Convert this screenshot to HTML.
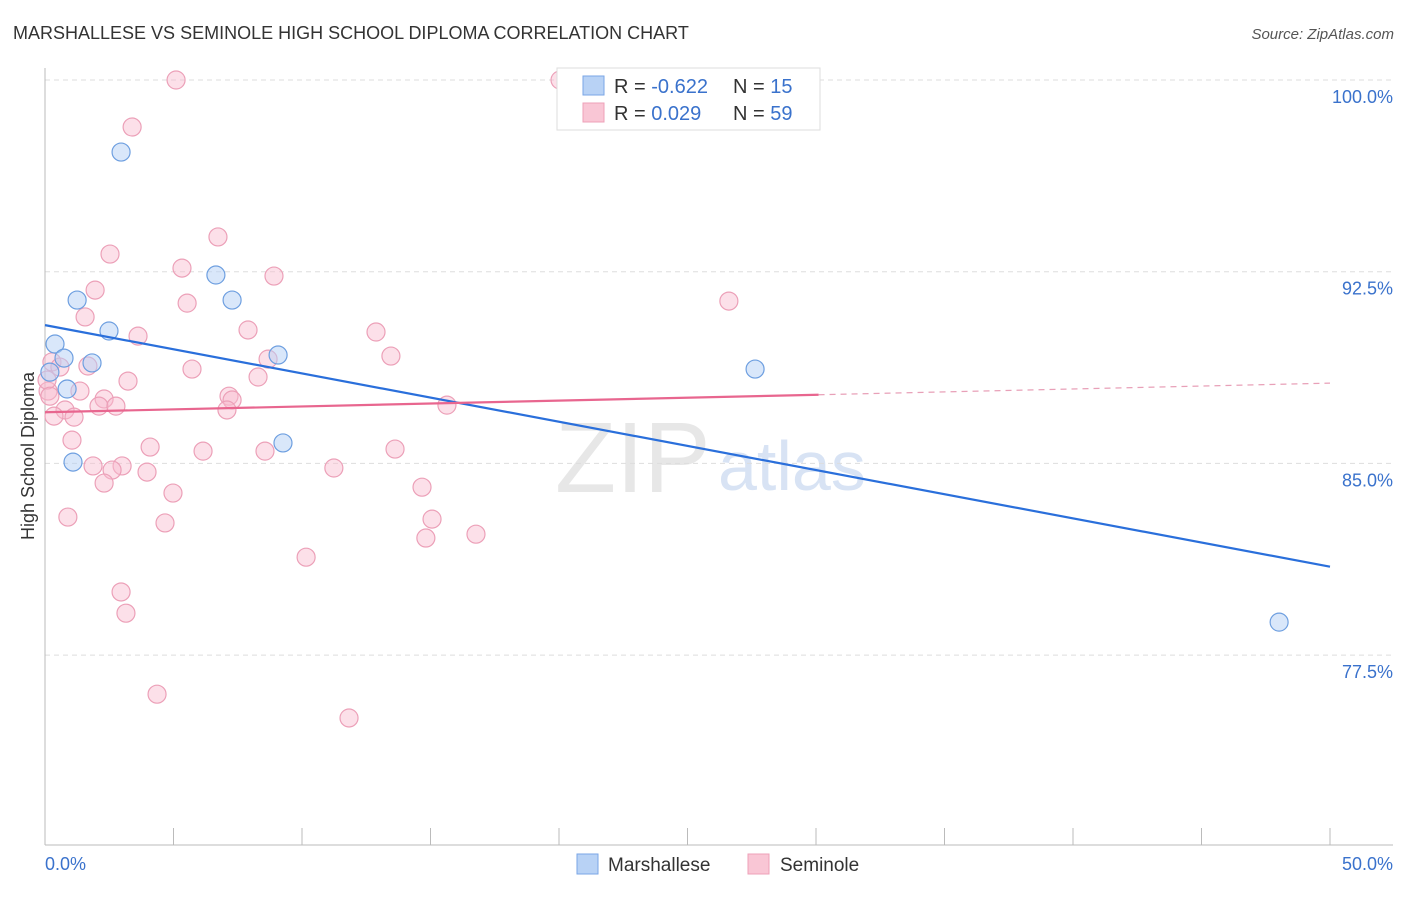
<!DOCTYPE html>
<html><head><meta charset="utf-8"><style>
body{margin:0;background:#fff;font-family:"Liberation Sans",sans-serif}
svg text{font-family:"Liberation Sans",sans-serif}
</style></head><body>
<svg id="chart" width="1406" height="892" xmlns="http://www.w3.org/2000/svg">
<text x="13" y="39" font-size="18" fill="#333">MARSHALLESE VS SEMINOLE HIGH SCHOOL DIPLOMA CORRELATION CHART</text>
<text x="1394" y="39" font-size="15" fill="#555" font-style="italic" text-anchor="end">Source: ZipAtlas.com</text>
<text x="555" y="492" font-size="100" fill="#ddd" font-family="Liberation Serif" opacity="0.7">ZIP</text>
<text x="718" y="490" font-size="70" fill="#c8d8f0" opacity="0.7">atlas</text>
<text transform="translate(34,456) rotate(-90)" font-size="18" fill="#333" text-anchor="middle">High School Diploma</text>
<g id="grid"></g><g id="axes"></g><g id="marks"></g><g id="lines"></g>
<g>
<rect x="557" y="68" width="263" height="62" fill="#fff" stroke="#ddd"/>
<rect x="583" y="76" width="21" height="19" fill="#b8d2f5" stroke="#7aa6e6"/>
<rect x="583" y="103" width="21" height="19" fill="#f9c6d5" stroke="#eea0b8"/>
<text x="614" y="93" font-size="20" fill="#333">R = <tspan fill="#3a72cc">-0.622</tspan></text>
<text x="733" y="93" font-size="20" fill="#333">N = <tspan fill="#3a72cc"> 15</tspan></text>
<text x="614" y="120" font-size="20" fill="#333">R = <tspan fill="#3a72cc"> 0.029</tspan></text>
<text x="733" y="120" font-size="20" fill="#333">N = <tspan fill="#3a72cc">59</tspan></text>
</g>
<g>
<rect x="577" y="854" width="21" height="20" fill="#b8d2f5" stroke="#7aa6e6"/>
<text x="608" y="871" font-size="19" fill="#333">Marshallese</text>
<rect x="748" y="854" width="21" height="20" fill="#f9c6d5" stroke="#eea0b8"/>
<text x="780" y="871" font-size="19" fill="#333">Seminole</text>
</g>
</svg>
<script>
const yTicks=[100,92.5,85,77.5];
const yTickLabels=["100.0%","92.5%","85.0%","77.5%"];
const xTickLabels=["0.0%","50.0%"];
const blueX=[2.96,6.65,1.25,7.28,2.49,0.39,0.74,1.83,9.07,0.86,0.19,9.26,1.09,27.63,48.02];
const blueY=[97.18,92.37,91.39,91.39,90.18,89.67,89.12,88.93,89.24,87.91,88.57,85.80,85.05,88.69,78.79];
const pinkX=[5.10,20.04,3.39,6.73,2.53,5.33,8.91,1.95,5.53,26.61,1.56,7.90,12.88,3.62,13.46,8.68,0.27,1.67,5.72,0.58,3.23,8.29,1.36,0.12,2.30,2.10,7.16,7.28,2.76,7.08,15.64,0.78,0.35,1.13,1.05,4.09,13.62,6.15,8.56,1.87,3.00,2.61,11.24,3.97,2.30,14.67,4.98,0.89,4.67,15.06,14.82,16.77,10.16,2.96,3.15,4.36,11.83,0.08,0.19];
const pinkY=[100,100,98.16,93.86,93.19,92.64,92.33,91.78,91.27,91.35,90.73,90.22,90.14,89.98,89.20,89.08,88.97,88.81,88.69,88.77,88.22,88.38,87.83,87.83,87.52,87.24,87.63,87.48,87.24,87.09,87.28,87.09,86.85,86.81,85.91,85.64,85.56,85.48,85.48,84.90,84.90,84.74,84.82,84.66,84.23,84.07,83.84,82.90,82.67,82.82,82.08,82.23,81.33,79.97,79.14,75.97,75.04,88.26,87.63];
const blueFit=[90.41,-0.189];
const pinkFit=[87.0,0.0228];
const pinkSolidEnd=30.1;
const NS="http://www.w3.org/2000/svg";
const sx=v=>45+v/50*1285;
const sy=v=>80+(100-v)*25.56;
function mk(tag,attrs,parent){const e=document.createElementNS(NS,tag);for(const k in attrs)e.setAttribute(k,attrs[k]);document.getElementById(parent).appendChild(e);return e;}
yTicks.forEach((t,i)=>{
 const g=mk('line',{x1:45,x2:1393,y1:sy(t),y2:sy(t),stroke:'#ddd','stroke-dasharray':'5,4'},'grid');
 
 
 const l=mk('text',{x:1393,y:sy(t)+23,'font-size':18,fill:'#3a72cc','text-anchor':'end'},'axes');
 l.textContent=yTickLabels[i];
 
 
});
const ya=mk('line',{x1:45,x2:45,y1:68,y2:845,stroke:'#bbb'},'axes');


const xa=mk('line',{x1:45,x2:1393,y1:845,y2:845,stroke:'#bbb'},'axes');


for(let i=0;i<=10;i++){const t=mk('line',{x1:sx(i*5),x2:sx(i*5),y1:828,y2:845,stroke:'#bbb'},'axes');
 
 }
[[0,'start',45],[50,'end',1393]].forEach((a,i)=>{const l=mk('text',{x:a[2],y:870,'font-size':18,fill:'#3a72cc','text-anchor':a[1]},'axes');l.textContent=xTickLabels[i];
 
 });
pinkX.forEach((x,i)=>{const c=mk('circle',{cx:sx(x),cy:sy(pinkY[i]),r:9,fill:'rgba(248,187,206,0.45)',stroke:'#eca0b8','stroke-width':1.2},'marks');
 
 });
blueX.forEach((x,i)=>{const c=mk('circle',{cx:sx(x),cy:sy(blueY[i]),r:9,fill:'rgba(180,208,245,0.5)',stroke:'#6e9fe0','stroke-width':1.2},'marks');
 
 });
const bl=mk('line',{x1:sx(0),y1:sy(blueFit[0]),x2:sx(50),y2:sy(blueFit[0]+blueFit[1]*50),stroke:'#2a6fdb','stroke-width':2.2},'lines');


const pl=mk('line',{x1:sx(0),y1:sy(pinkFit[0]),x2:sx(pinkSolidEnd),y2:sy(pinkFit[0]+pinkFit[1]*pinkSolidEnd),stroke:'#e8668f','stroke-width':2.2},'lines');


const pd=mk('line',{x1:sx(pinkSolidEnd),y1:sy(pinkFit[0]+pinkFit[1]*pinkSolidEnd),x2:sx(50),y2:sy(pinkFit[0]+pinkFit[1]*50),stroke:'#e8a0b8','stroke-width':1.2,'stroke-dasharray':'6,5'},'lines');


</script>
</body></html>
